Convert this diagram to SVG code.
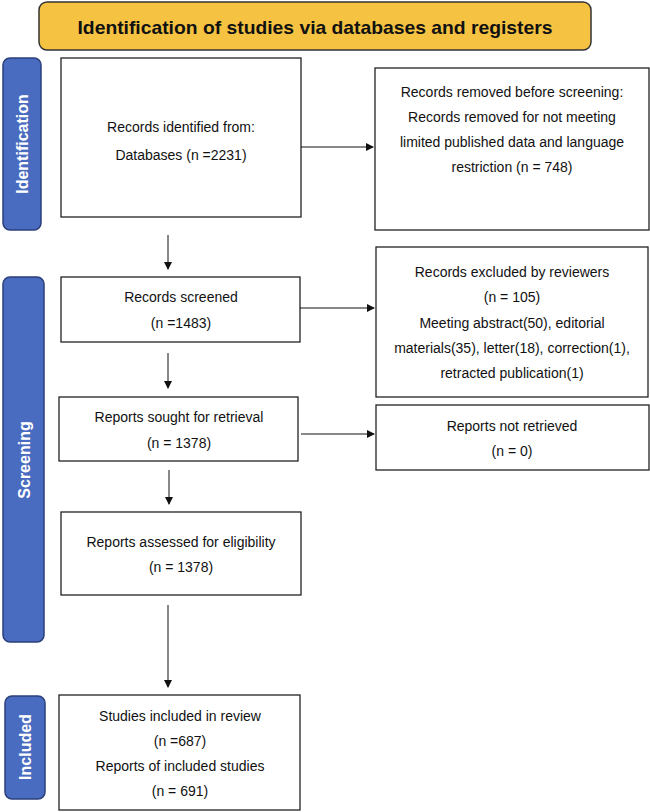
<svg xmlns="http://www.w3.org/2000/svg" width="650" height="812" viewBox="0 0 650 812">
<style>
.box{fill:#fff;stroke:#222;stroke-width:1.3}
.bar{fill:#4a6cc0;stroke:#2b3f7a;stroke-width:1.5}
.t{font-family:"Liberation Sans",Arial,sans-serif;font-size:14px;fill:#111;text-anchor:middle}
.bt{font-family:"Liberation Sans",Arial,sans-serif;font-size:16px;font-weight:bold;fill:#fff;text-anchor:middle}
.ln{stroke:#111;stroke-width:1;fill:none;marker-end:url(#a)}
</style>
<defs><marker id="a" markerWidth="8" markerHeight="8" refX="7" refY="4" orient="auto" markerUnits="userSpaceOnUse"><path d="M0,0 L8,4 L0,8 z" fill="#111"/></marker></defs>
<g id="title"><rect x="39" y="2" width="552" height="48" rx="8" fill="#f5c242" stroke="#333" stroke-width="1.5"/>
<text x="315" y="34" font-family="Liberation Sans,Arial,sans-serif" font-size="19" font-weight="bold" fill="#111" text-anchor="middle" textLength="475" lengthAdjust="spacingAndGlyphs">Identification of studies via databases and registers</text></g>
<g id="bar-identification"><rect class="bar" x="3" y="58" width="38" height="172" rx="7"/><text class="bt" transform="translate(28,144) rotate(-90)">Identification</text></g>
<g id="bar-screening"><rect class="bar" x="3" y="277" width="41" height="365" rx="7"/><text class="bt" transform="translate(30,460) rotate(-90)">Screening</text></g>
<g id="bar-included"><rect class="bar" x="5" y="696" width="40" height="103" rx="7"/><text class="bt" transform="translate(31,747) rotate(-90)">Included</text></g>
<g id="n1"><rect class="box" x="61" y="58" width="240" height="159"/><text class="t" x="181" y="132">Records identified from:</text><text class="t" x="181" y="160">Databases (n =2231)</text></g>
<g id="n2"><rect class="box" x="375" y="68" width="274" height="162"/><text class="t" x="512" y="97">Records removed before screening:</text><text class="t" x="512" y="122">Records removed for not meeting</text><text class="t" x="512" y="147">limited published data and language</text><text class="t" x="512" y="172">restriction (n = 748)</text></g>
<g id="n3"><rect class="box" x="61" y="277" width="239" height="65"/><text class="t" x="181" y="302">Records screened</text><text class="t" x="181" y="328">(n =1483)</text></g>
<g id="n4"><rect class="box" x="376" y="247" width="272" height="150"/><text class="t" x="512" y="277">Records excluded by reviewers</text><text class="t" x="512" y="302">(n = 105)</text><text class="t" x="512" y="328">Meeting abstract(50), editorial</text><text class="t" x="512" y="353">materials(35), letter(18), correction(1),</text><text class="t" x="512" y="378">retracted publication(1)</text></g>
<g id="n5"><rect class="box" x="59" y="397" width="239" height="64"/><text class="t" x="179" y="422">Reports sought for retrieval</text><text class="t" x="179" y="448">(n = 1378)</text></g>
<g id="n6"><rect class="box" x="376" y="405" width="273" height="65"/><text class="t" x="512" y="431">Reports not retrieved</text><text class="t" x="512" y="456">(n = 0)</text></g>
<g id="n7"><rect class="box" x="61" y="512" width="240" height="83"/><text class="t" x="181" y="547">Reports assessed for eligibility</text><text class="t" x="181" y="572">(n = 1378)</text></g>
<g id="n8"><rect class="box" x="59" y="695" width="241" height="115"/><text class="t" x="180" y="721">Studies included in review</text><text class="t" x="180" y="746">(n =687)</text><text class="t" x="180" y="771">Reports of included studies</text><text class="t" x="180" y="796">(n = 691)</text></g>
<g id="connectors">
<line class="ln" x1="301" y1="147" x2="373" y2="147"/>
<line class="ln" x1="168" y1="235" x2="168" y2="269"/>
<line class="ln" x1="300" y1="308" x2="374" y2="308"/>
<line class="ln" x1="168" y1="353" x2="168" y2="388"/>
<line class="ln" x1="301" y1="434" x2="374" y2="434"/>
<line class="ln" x1="169" y1="470" x2="169" y2="504"/>
<line class="ln" x1="168" y1="605" x2="168" y2="687"/>
</g>
</svg>
